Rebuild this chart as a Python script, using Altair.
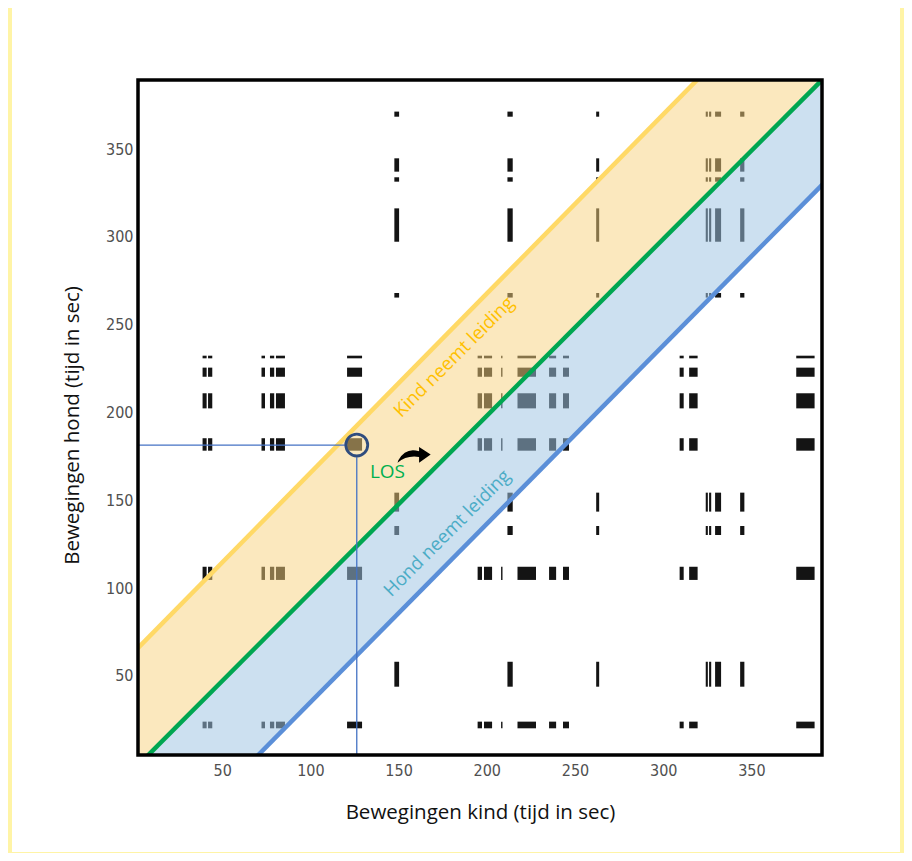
import altair as alt
import pandas as pd

# ---------------- data ----------------
X_DOMAIN = [2.3, 390.0]
Y_DOMAIN = [5.0, 389.4]
X_TICKS = [50, 100, 150, 200, 250, 300, 350]
Y_TICKS = [50, 100, 150, 200, 250, 300, 350]

# movement intervals of the child (x) and dog (y), per state (seconds)
kind_A = [(38.9, 41.2), (42.0, 44.4), (72.3, 74.3), (77.1, 79.5), (80.5, 85.6),
          (120.8, 129.3), (194.8, 197.3), (198.4, 203.0), (208.1, 208.9),
          (217.4, 227.9), (235.3, 239.3), (243.2, 246.6), (309.3, 311.6),
          (314.7, 319.5), (375.4, 385.8)]
kind_B = [(147.6, 150.3), (211.7, 214.7), (262.0, 263.7), (324.1, 325.3),
          (326.0, 327.2), (329.4, 332.8), (343.6, 346.0)]
hond_A = [(230.9, 232.4), (220.4, 225.6), (202.4, 211.0), (178.3, 185.4),
          (104.7, 112.2), (20.2, 24.0)]
hond_B = [(368.5, 371.4), (337.2, 344.8), (331.5, 334.0), (297.3, 316.3),
          (265.5, 268.1), (143.6, 154.4), (130.3, 135.4), (43.9, 58.1)]

# diagonal reference lines (values at x = 0 and x = 400)
line_x = [0, 400]
los_y = [-3.2, 399.5]
kind_lead_y = [63.6, 471.9]
hond_lead_y = [-66.6, 339.8]

# marked point and its guide lines
point_x = [126.3]
point_y = [181.5]
guide_h_x = [2.3, 119.6]
guide_v_y = [5.0, 174.6]

# annotations
labels = ["Kind neemt leiding", "Hond neemt leiding", "LOS"]
label_x = [181.4, 177.5, 143.7]
label_y = [231.7, 131.4, 165.9]
label_color = ["#FFC000", "#4BACC6", "#00B050"]
label_size = [18.5, 18.5, 19]
arrow_x = [158.8]
arrow_y = [175.7]

W, H = 684, 675

# ---------------- tables ----------------
rects = [{"x": a, "x2": b, "y": c, "y2": d} for (a, b) in kind_A for (c, d) in hond_A]
rects += [{"x": a, "x2": b, "y": c, "y2": d} for (a, b) in kind_B for (c, d) in hond_B]
bars_df = pd.DataFrame(rects)

lines_df = pd.DataFrame({"x": line_x, "los": los_y, "kind": kind_lead_y, "hond": hond_lead_y})
pt_df = pd.DataFrame({"x": point_x, "y": point_y})
gh_df = pd.DataFrame({"x": [guide_h_x[0]], "x2": [guide_h_x[1]], "y": point_y})
gv_df = pd.DataFrame({"x": point_x, "y": [guide_v_y[0]], "y2": [guide_v_y[1]]})
arrow_df = pd.DataFrame({"x": arrow_x, "y": arrow_y})
one = pd.DataFrame({"k": [0]})

# ---------------- scales / axes ----------------
xs = alt.Scale(domain=X_DOMAIN, nice=False, zero=False)
ys = alt.Scale(domain=Y_DOMAIN, nice=False, zero=False)
TICK_FONT = "Liberation Sans Narrow, DejaVu Sans Condensed, sans-serif"
TITLE_FONT = "Open Sans"
xaxis = alt.Axis(values=X_TICKS, title="Bewegingen kind (tijd in sec)", grid=False,
                 ticks=False, domain=False, labelFont=TICK_FONT, labelFontSize=16,
                 labelColor="#505050", labelPadding=7, titleFont=TITLE_FONT,
                 titleFontSize=20.5, titleFontWeight="normal", titleColor="#111111",
                 titleY=57, titleBaseline="middle", zindex=1)
yaxis = alt.Axis(values=Y_TICKS, title="Bewegingen hond (tijd in sec)", grid=False,
                 ticks=False, domain=False, labelFont=TICK_FONT, labelFontSize=16,
                 labelColor="#505050", labelPadding=5, titleFont=TITLE_FONT,
                 titleFontSize=20.5, titleFontWeight="normal", titleColor="#111111",
                 titleX=-66, titleY=345, titleBaseline="middle", zindex=1)


def X(f="x"):
    return alt.X(f"{f}:Q", scale=xs, axis=xaxis)


def Y(f="y"):
    return alt.Y(f"{f}:Q", scale=ys, axis=yaxis)


# ---------------- layers ----------------
white_bg = alt.Chart(one).mark_rect(color="white").encode(
    x=alt.value(-126), x2=alt.value(762), y=alt.value(-72), y2=alt.value(772))

bars = alt.Chart(bars_df).mark_rect(color="#141414").encode(
    x=X(), x2=alt.X2("x2:Q"), y=Y(), y2=alt.Y2("y2:Q"))

band_kind = alt.Chart(lines_df).mark_area(clip=True, color="#F8D27E", opacity=0.5).encode(
    x=X(), y=Y("los"), y2=alt.Y2("kind:Q"))
band_hond = alt.Chart(lines_df).mark_area(clip=True, color="#9EC4E2", opacity=0.53).encode(
    x=X(), y=Y("hond"), y2=alt.Y2("los:Q"))

line_kind = alt.Chart(lines_df).mark_line(clip=True, color="#FFD966", strokeWidth=4.5).encode(
    x=X(), y=Y("kind"))
line_hond = alt.Chart(lines_df).mark_line(clip=True, color="#5B8FD8", strokeWidth=4.5).encode(
    x=X(), y=Y("hond"))
line_los = alt.Chart(lines_df).mark_line(clip=True, color="#00A651", strokeWidth=4.5).encode(
    x=X(), y=Y("los"))

guide_h = alt.Chart(gh_df).mark_rule(color="#4472C4", strokeWidth=1.3).encode(
    x=X(), x2=alt.X2("x2:Q"), y=Y())
guide_v = alt.Chart(gv_df).mark_rule(color="#4472C4", strokeWidth=1.3).encode(
    x=X(), y=Y(), y2=alt.Y2("y2:Q"))

circle = alt.Chart(pt_df).mark_point(shape="circle", size=480, filled=False,
                                     stroke="#2F4C7E", strokeWidth=2.8, opacity=1).encode(
    x=X(), y=Y())

ARROW = ("M -1 0.45 Q -0.45 -0.02 0.3 0.1 L 0.3 0.45 L 1 -0.05 L 0.3 -0.5 "
         "L 0.3 -0.24 Q -0.5 -0.5 -0.95 0.3 Z")
arrow = alt.Chart(arrow_df).mark_point(shape=ARROW, size=1100, filled=True,
                                       color="black", opacity=1).encode(x=X(), y=Y())

text_layers = []
for i, lab in enumerate(labels):
    df = pd.DataFrame({"x": [label_x[i]], "y": [label_y[i]], "t": [lab]})
    ang = 315 if i < 2 else 0
    text_layers.append(
        alt.Chart(df).mark_text(angle=ang, font=TITLE_FONT, fontSize=label_size[i],
                                color=label_color[i], align="center",
                                baseline="middle").encode(
            x=X(), y=Y(), text="t:N"))

frame = alt.Chart(one).mark_rect(fillOpacity=0, stroke="black", strokeWidth=3.5).encode(
    x=alt.value(0), x2=alt.value(W), y=alt.value(0), y2=alt.value(H))

chart = alt.layer(
    white_bg, bars, band_kind, band_hond, line_kind, line_hond, line_los,
    guide_h, guide_v, circle, arrow, *text_layers, frame
).properties(
    width=W, height=H,
    autosize=alt.AutoSizeParams(type="none"),
    padding={"left": 130, "top": 72, "right": 82, "bottom": 98},
    background="#FFF4A6",
).configure_view(strokeWidth=0)

chart.save("out.html", embed_options={"renderer": "svg", "actions": False})
